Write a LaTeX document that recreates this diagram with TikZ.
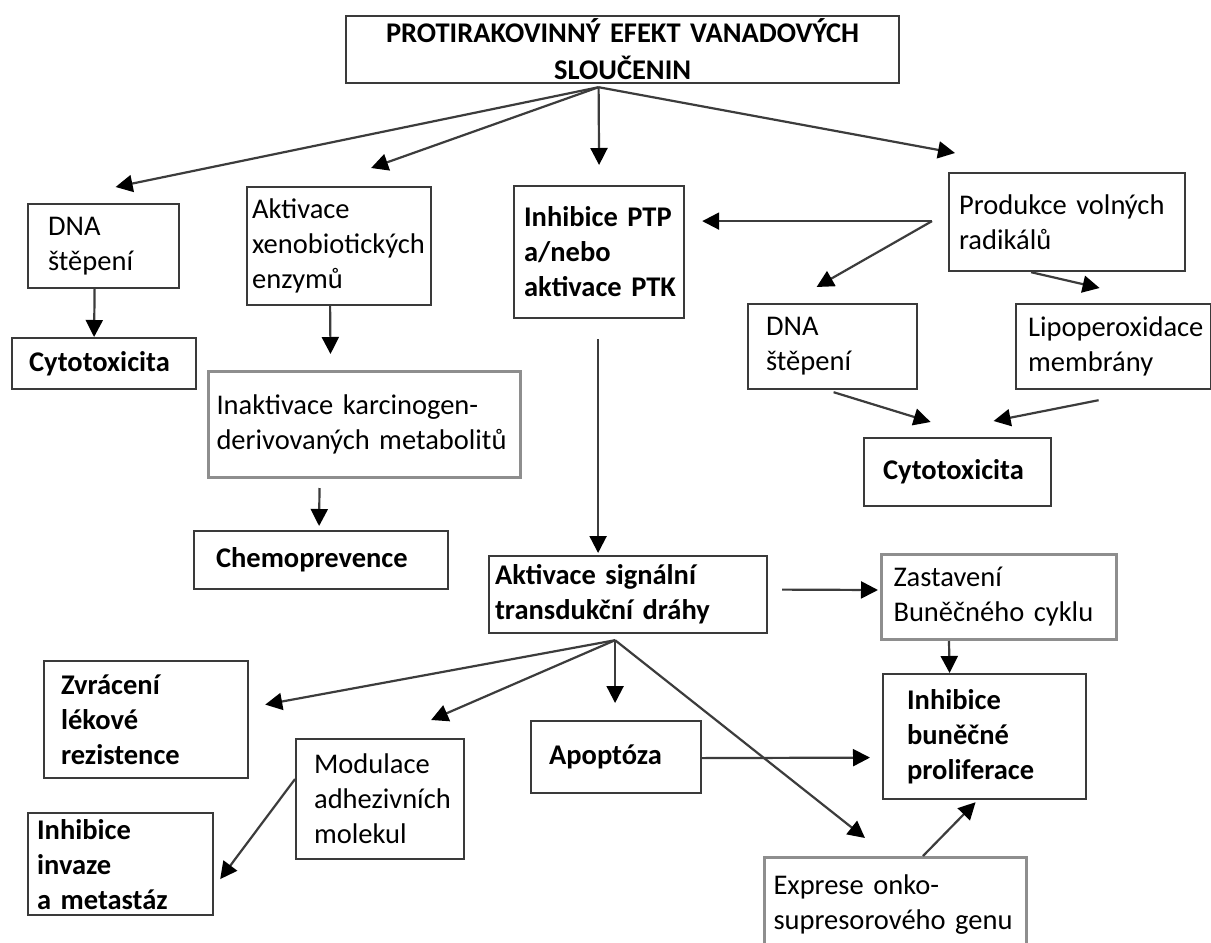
\documentclass[tikz,border=0pt]{standalone}
\usepackage{fontspec}
\setmainfont{Carlito}
\usetikzlibrary{arrows.meta,calc}
\definecolor{boxline}{HTML}{3A3A3A}
\definecolor{boxgrey}{HTML}{8E8E8E}
\definecolor{arrowline}{HTML}{3C3C3C}

\begin{document}
\begin{tikzpicture}[x=1pt,y=-1pt,
      cell/.style={draw=boxline,line width=2.2pt,anchor=north west,align=left,
        inner ysep=0pt,font=\fontsize{28.5}{35}\selectfont},
      greycell/.style={cell,draw=boxgrey,line width=3pt},
      strong/.style={font=\fontsize{28.5}{35}\selectfont\bfseries},
      flow/.style={draw=arrowline,line width=2.2pt,
        -{Triangle[length=17pt,width=17pt,color=black]}}]
    \path[use as bounding box,fill=white] (0,0) rectangle (1211,943);

    % boxes
    \node[cell,align=center,font=\fontsize{28.5}{37}\selectfont\bfseries,
      minimum width=553pt,minimum height=67pt,inner xsep=10pt,text width=533pt]
      (title) at (345,15) {PROTIRAKOVINNÝ EFEKT VANADOVÝCH\hspace*{18pt}\\SLOUČENIN\hspace*{26pt}};
    \node[cell,minimum width=151pt,minimum height=84pt,inner xsep=20pt,text width=111pt]
      (dnaL) at (27,203) {DNA\\štěpení};
    \node[cell,strong,minimum width=184pt,minimum height=51pt,inner xsep=17pt,text width=150pt]
      (cytoL) at (11,337) {Cytotoxicita};
    \node[cell,minimum width=184pt,minimum height=118pt,inner xsep=5pt,text width=174pt]
      (xeno) at (246,186) {Aktivace\\xenobiotických\\enzymů};
    \node[greycell,minimum width=312pt,minimum height=106pt,inner xsep=8pt,text width=296pt]
      (inakt) at (207,370) {Inaktivace~karcinogen-\\derivovaných~metabolitů};
    \node[cell,strong,minimum width=254pt,minimum height=58pt,inner xsep=22pt,text width=210pt]
      (chemo) at (193,530) {Chemoprevence};
    \node[cell,strong,minimum width=170pt,minimum height=132pt,inner xsep=10pt,text width=150pt]
      (ptp) at (513,185) {Inhibice~PTP\\a/nebo\\aktivace~PTK};
    \node[cell,minimum width=236pt,minimum height=98pt,inner xsep=10pt,text width=216pt]
      (radik) at (948,172) {Produkce~volných\\radikálů};
    \node[cell,minimum width=169pt,minimum height=85pt,inner xsep=18pt,text width=133pt]
      (dnaR) at (747,303) {DNA\\štěpení};
    \node[cell,minimum width=195pt,minimum height=85pt,inner xsep=12pt,text width=171pt]
      (lipo) at (1015,303) {Lipoperoxidace\\membrány};
    \node[cell,strong,minimum width=187pt,minimum height=68pt,inner xsep=19pt,text width=149pt]
      (cytoR) at (863,437) {Cytotoxicita};
    \node[cell,strong,minimum width=278pt,minimum height=77pt,inner xsep=6pt,text width=266pt]
      (signal) at (488,555) {Aktivace~signální\\transdukční~dráhy};
    \node[greycell,minimum width=235pt,minimum height=85pt,inner xsep=12pt,text width=211pt]
      (stop) at (880,553) {Zastavení\\Buněčného~cyklu};
    \node[cell,strong,minimum width=203pt,minimum height=125pt,inner xsep=24pt,text width=155pt]
      (prolif) at (882,673) {Inhibice\\buněčné\\proliferace};
    \node[cell,strong,minimum width=170pt,minimum height=72pt,inner xsep=18pt,text width=134pt]
      (apop) at (530,720) {Apoptóza};
    \node[greycell,minimum width=262pt,minimum height=95pt,inner xsep=9pt,text width=244pt]
      (onko) at (763,856) {Exprese~onko-\\supresorového~genu};
    \node[cell,strong,minimum width=204pt,minimum height=117pt,inner xsep=17pt,text width=170pt]
      (zvrac) at (43,660) {Zvrácení\\lékové\\rezistence};
    \node[cell,minimum width=168pt,minimum height=120pt,inner xsep=18pt,text width=132pt]
      (modul) at (295,738) {Modulace\\adhezivních\\molekul};
    \node[cell,strong,minimum width=185pt,minimum height=102pt,inner xsep=9pt,text width=167pt]
      (invaz) at (27,812) {Inhibice\\invaze\\a~metastáz};

    % branch points
    \coordinate (hub) at ($(title.south)+(-24,3)$);
    \coordinate (fork) at ($(radik.west)+(-16,-1)$);
    \coordinate (hubB) at ($(signal.south)+(-13,6)$);

    % connectors
    \draw[flow] (hub) -- ($(dnaL.north)+(12,-16)$);
    \draw[flow] (hub) -- ($(xeno.north)+(32,-18)$);
    \draw[flow] (hub) -- ($(ptp.north)+(0,-20)$);
    \draw[flow] (hub) -- ($(radik.north west)+(7,-19)$);
    \draw[flow] ($(dnaL.south)+(-9,0)$) -- ($(cytoL.north)+(-10,0)$);
    \draw[flow] ($(xeno.south)+(-9,0)$) -- ($(inakt.north)+(-34,-16)$);
    \draw[flow] ($(inakt.south)+(-45,9)$) -- ($(chemo.north)+(-2,-4)$);
    \draw[flow] ($(ptp.south)+(-1,20)$) -- ($(signal.north)+(-30,-2)$);
    \draw[flow] (fork) -- ($(ptp.east)+(17,-31)$);
    \draw[flow] (fork) -- ($(dnaR.north)+(-16,-16)$);
    \draw[flow] ($(radik.south)+(-36,0)$) -- ($(lipo.north)+(-14,-15)$);
    \draw[flow] ($(dnaR.south)+(1,2)$) -- ($(cytoR.north)+(-27,-15)$);
    \draw[flow] ($(lipo.south)+(-15,10)$) -- ($(cytoR.north)+(36,-16)$);
    \draw[flow] ($(signal.east)+(14,-5)$) -- ($(stop.west)+(-2,-7)$);
    \draw[flow] ($(stop.south)+(-50,0)$) -- ($(prolif.north)+(-35,0)$);
    \draw[flow] (hubB) -- ($(zvrac.east)+(16,-15)$);
    \draw[flow] (hubB) -- ($(modul.north)+(51,-18)$);
    \draw[flow] (hubB) -- ($(apop.north)+(-1,-17)$);
    \draw[flow] (hubB) -- ($(onko.north west)+(102,-18)$);
    \draw[flow] ($(apop.east)+(0,1)$) -- ($(prolif.west)+(-12,21)$);
    \draw[flow] ($(onko.north west)+(160,0)$) -- ($(prolif.south)+(-9,2)$);
    \draw[flow] ($(modul.west)+(0,-20)$) -- ($(invaz.east)+(6,15)$);
  \end{tikzpicture}
\end{document}
